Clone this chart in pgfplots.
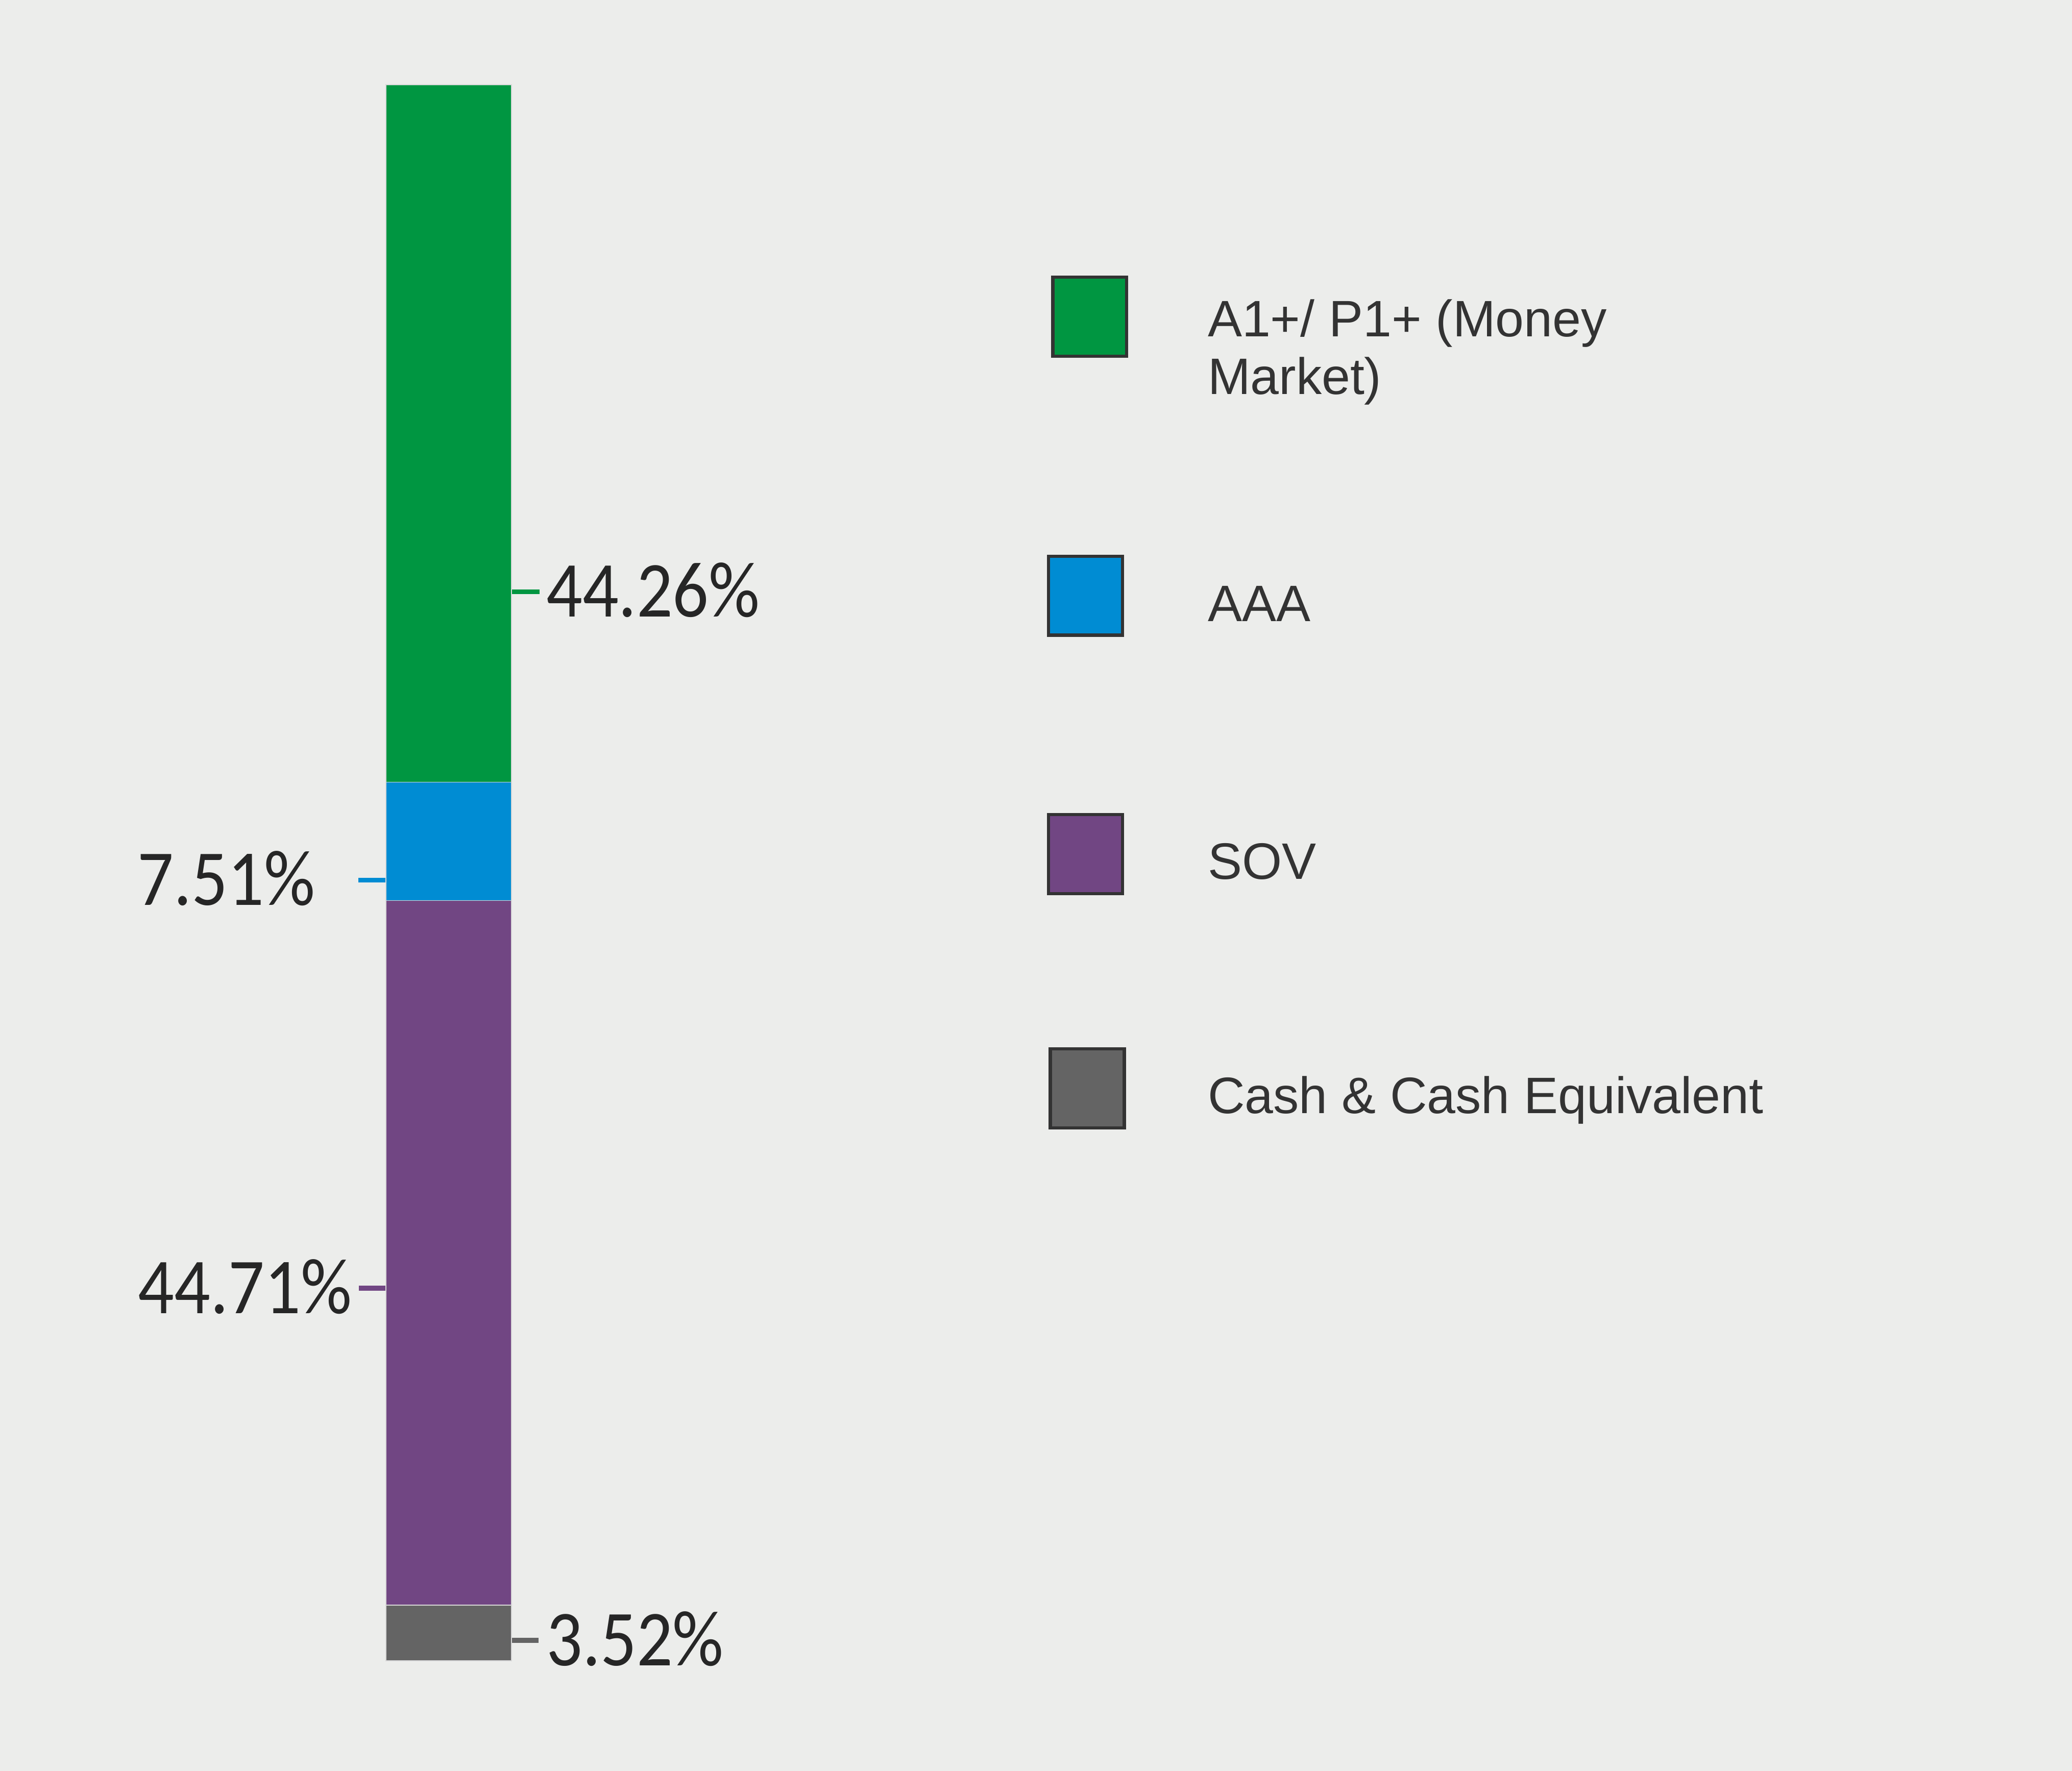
\documentclass[border=0pt]{standalone}
\usepackage{pgfplots}
\pgfplotsset{compat=1.18}
\usepackage{fontspec}
\setmainfont{Liberation Sans}
\newfontfamily\lblfont[FakeStretch=0.9]{Carlito}
\definecolor{bg}{HTML}{ECEDEB}
\definecolor{cgreen}{HTML}{009641}
\definecolor{cblue}{HTML}{008CD3}
\definecolor{cpurple}{HTML}{714683}
\definecolor{cgray}{HTML}{646464}
\definecolor{lbl}{HTML}{262626}
\definecolor{legtxt}{HTML}{333333}
\definecolor{legbrd}{HTML}{333333}
\definecolor{sep}{HTML}{D8D8D8}
\begin{document}
\begin{tikzpicture}
\fill[bg] (0bp,0bp) rectangle (784bp,670.23bp);
\begin{axis}[
  at={(146bp,41.73bp)}, anchor=south west,
  width=47.5bp, height=596.5bp, scale only axis,
  xmin=-0.5, xmax=0.5, ymin=0, ymax=100,
  axis lines=none, ticks=none, clip=false,
  ybar stacked, bar width=47.5bp,
  every axis plot/.append style={draw=sep, line width=0.35bp},
]
\addplot[fill=cgray] coordinates {(0,3.52)};
\addplot[fill=cpurple] coordinates {(0,44.71)};
\addplot[fill=cblue] coordinates {(0,7.51)};
\addplot[fill=cgreen] coordinates {(0,44.26)};
% leader ticks and labels
\draw[cgreen, line width=1.8bp] (axis cs:0.5,67.81) -- ([xshift=10.6bp]axis cs:0.5,67.81);
\node[anchor=base west, inner sep=0, text=lbl, font=\lblfont\fontsize{30bp}{36bp}\selectfont]
  at ([xshift=13bp,yshift=-9.5bp]axis cs:0.5,67.81) {44.26\%};
\draw[cblue, line width=1.8bp] (axis cs:-0.5,49.52) -- ([xshift=-10.4bp]axis cs:-0.5,49.52);
\node[anchor=base east, inner sep=0, text=lbl, font=\lblfont\fontsize{30bp}{36bp}\selectfont]
  at ([xshift=-26.5bp,yshift=-9.5bp]axis cs:-0.5,49.52) {7.51\%};
\draw[cpurple, line width=1.8bp] (axis cs:-0.5,23.64) -- ([xshift=-10.2bp]axis cs:-0.5,23.64);
\node[anchor=base east, inner sep=0, text=lbl, font=\lblfont\fontsize{30bp}{36bp}\selectfont]
  at ([xshift=-12.7bp,yshift=-9.5bp]axis cs:-0.5,23.64) {44.71\%};
\draw[cgray, line width=1.8bp] (axis cs:0.5,1.29) -- ([xshift=10.2bp]axis cs:0.5,1.29);
\node[anchor=base west, inner sep=0, text=lbl, font=\lblfont\fontsize{30bp}{36bp}\selectfont]
  at ([xshift=13bp,yshift=-9.5bp]axis cs:0.5,1.29) {3.52\%};
\end{axis}
% legend
\begin{scope}[line width=1.2bp, draw=legbrd]
\filldraw[fill=cgreen]  (398.35bp,535.43bp) rectangle (426.25bp,565.33bp);
\filldraw[fill=cblue]   (396.7bp,429.83bp) rectangle (424.7bp,459.63bp);
\filldraw[fill=cpurple] (396.7bp,332.03bp) rectangle (424.7bp,361.93bp);
\filldraw[fill=cgray]   (397.4bp,243.43bp) rectangle (425.4bp,273.28bp);
\end{scope}
\begin{scope}[every node/.style={anchor=base west, inner sep=0, text=legtxt, font=\fontsize{19.4bp}{23bp}\selectfont}]
\node at (456.8bp,542.83bp) {A1+/ P1+ (Money};
\node at (456.8bp,521.03bp) {Market)};
\node at (456.8bp,435.13bp) {AAA};
\node at (456.8bp,337.58bp) {SOV};
\node at (456.8bp,248.93bp) {Cash \& Cash Equivalent};
\end{scope}
\end{tikzpicture}
\end{document}
